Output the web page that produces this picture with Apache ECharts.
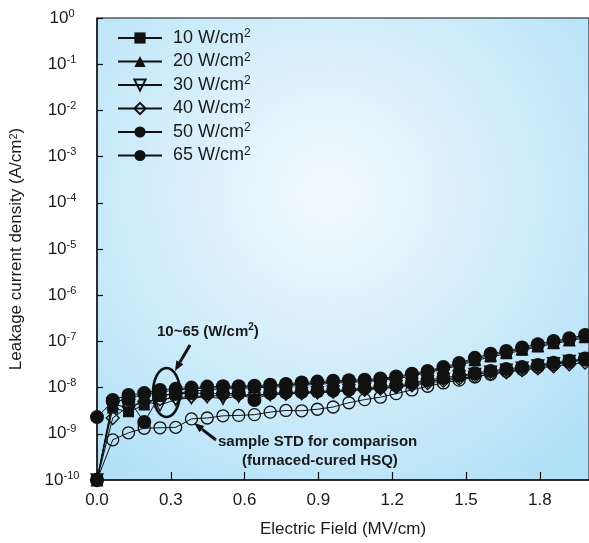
<!DOCTYPE html>
<html>
<head>
<meta charset="utf-8">
<script src="https://cdn.jsdelivr.net/npm/echarts@6/dist/echarts.min.js"></script>
<style>
  html, body { margin: 0; padding: 0; background: #fff; }
  #main { width: 589px; height: 543px; }
</style>
</head>
<body>
<div id="main"></div>
<script>
// electric field (MV/cm)
const fieldMV = [0, 0.064, 0.128, 0.192, 0.256, 0.32, 0.384, 0.448, 0.512, 0.576, 0.64, 0.704, 0.768, 0.832, 0.896, 0.96,
  1.024, 1.088, 1.152, 1.216, 1.28, 1.344, 1.408, 1.472, 1.536, 1.6, 1.664, 1.728, 1.792, 1.856, 1.92, 1.984];

// leakage current density (A/cm2)
const j10 = [1e-10, 3.6e-9, 3.0e-9, 4.2e-9, 6.5e-9, 7.5e-9, 8.3e-9, 9.0e-9, 9.3e-9, 9.6e-9, 9.9e-9, 1.02e-8, 1.06e-8, 1.12e-8, 1.18e-8, 1.24e-8,
  1.3e-8, 1.35e-8, 1.43e-8, 1.55e-8, 1.78e-8, 2.1e-8, 2.5e-8, 3.0e-8, 3.8e-8, 4.6e-8, 5.4e-8, 6.4e-8, 7.6e-8, 8.9e-8, 1.03e-7, 1.2e-7];
const j20 = [1e-10, 4.6e-9, 6.0e-9, 7.0e-9, 8.0e-9, 8.8e-9, 9.4e-9, 9.8e-9, 1.0e-8, 1.02e-8, 1.05e-8, 1.08e-8, 1.12e-8, 1.2e-8, 1.26e-8, 1.32e-8,
  1.36e-8, 1.4e-8, 1.5e-8, 1.65e-8, 1.9e-8, 2.2e-8, 2.65e-8, 3.2e-8, 4.1e-8, 5.0e-8, 5.8e-8, 6.9e-8, 8.1e-8, 9.5e-8, 1.09e-7, 1.28e-7];
const j30 = [1e-10, 4.5e-9, 3.6e-9, 5.0e-9, 4.2e-9, 5.5e-9, 6.0e-9, 6.3e-9, 5.8e-9, 6.5e-9, 6.8e-9, 7.0e-9, 7.3e-9, 7.5e-9, 7.8e-9, 8.1e-9,
  8.6e-9, 9.2e-9, 9.8e-9, 1.05e-8, 1.17e-8, 1.35e-8, 1.52e-8, 1.7e-8, 1.92e-8, 2.15e-8, 2.4e-8, 2.65e-8, 2.95e-8, 3.3e-8, 3.7e-8, 4.1e-8];
const j40 = [1e-10, 2.2e-9, 3.9e-9, 5.0e-9, 5.6e-9, 6.0e-9, 6.4e-9, 6.6e-9, 6.8e-9, 6.9e-9, 7.0e-9, 7.2e-9, 7.4e-9, 7.6e-9, 7.9e-9, 8.2e-9,
  8.6e-9, 9.0e-9, 9.5e-9, 1.02e-8, 1.12e-8, 1.25e-8, 1.4e-8, 1.56e-8, 1.75e-8, 1.95e-8, 2.15e-8, 2.38e-8, 2.62e-8, 2.9e-8, 3.2e-8, 3.5e-8];
const j50 = [1e-10, 5.4e-9, 6.9e-9, 7.6e-9, 8.9e-9, 9.5e-9, 1.0e-8, 1.05e-8, 1.07e-8, 1.07e-8, 1.1e-8, 1.15e-8, 1.2e-8, 1.29e-8, 1.35e-8, 1.41e-8,
  1.45e-8, 1.48e-8, 1.58e-8, 1.74e-8, 2.0e-8, 2.3e-8, 2.8e-8, 3.4e-8, 4.4e-8, 5.4e-8, 6.2e-8, 7.4e-8, 8.7e-8, 1.02e-7, 1.17e-7, 1.38e-7];
const j65 = [2.3e-9, 5.0e-9, 5.6e-9, 1.8e-9, 6.8e-9, 7.3e-9, 7.6e-9, 7.5e-9, 7.4e-9, 7.5e-9, 5.4e-9, 7.6e-9, 7.8e-9, 8.0e-9, 8.3e-9, 8.6e-9,
  9.1e-9, 9.8e-9, 1.05e-8, 1.12e-8, 1.25e-8, 1.45e-8, 1.62e-8, 1.82e-8, 2.05e-8, 2.3e-8, 2.52e-8, 2.78e-8, 3.1e-8, 3.45e-8, 3.8e-8, 4.25e-8];
// sample STD (furnace-cured HSQ)
const jStd = [1e-10, 7.4e-10, 1.05e-9, 1.32e-9, 1.35e-9, 1.38e-9, 2.1e-9, 2.2e-9, 2.45e-9, 2.5e-9, 2.6e-9, 2.95e-9, 3.2e-9, 3.15e-9, 3.4e-9, 3.8e-9,
  4.7e-9, 5.5e-9, 6.2e-9, 7.4e-9, 8.9e-9, 1.07e-8, 1.26e-8, 1.45e-8, 1.7e-8, 1.95e-8, 2.25e-8, 2.5e-8, 2.8e-8, 3.15e-8, 3.55e-8, 4.0e-8];

const xTicks = [0, 0.3, 0.6, 0.9, 1.2, 1.5, 1.8];

const pairs = arr => arr.map((v, i) => [fieldMV[i], v]);

function makeSeries(name, data, symbol, filled, size, rotate) {
  return {
    name: name,
    type: 'line',
    data: pairs(data),
    symbol: symbol,
    symbolSize: size,
    symbolRotate: rotate || 0,
    lineStyle: { color: '#111', width: 1 },
    itemStyle: {
      color: filled ? '#111' : 'rgba(255,255,255,0)',
      borderColor: '#111',
      borderWidth: filled ? 0 : 1.3
    },
    emphasis: { disabled: true }
  };
}

const chart = echarts.init(document.getElementById('main'), null, { renderer: 'canvas' });

const txt = '#1a1a1a';
const font = 'Liberation Sans, Arial, sans-serif';

chart.setOption({
  animation: false,
  textStyle: { fontFamily: font },
  grid: {
    left: 96, top: 18, right: -1, bottom: 63,
    show: true,
    borderColor: '#111',
    borderWidth: 1,
    backgroundColor: {
      type: 'radial', x: 0.47, y: 0.38, r: 0.78,
      colorStops: [
        { offset: 0, color: '#f3fbff' },
        { offset: 0.35, color: '#dcf1fc' },
        { offset: 1, color: '#b0e0f7' }
      ]
    }
  },
  legend: {
    orient: 'vertical',
    left: 112, top: 23,
    itemWidth: 44, itemHeight: 14, itemGap: 4.5,
    textStyle: {
      color: txt, fontSize: 18, fontFamily: font, padding: [0, 0, 0, 6],
      rich: {
        a: { fontSize: 18, color: txt, fontFamily: font, lineHeight: 20 },
        s: { fontSize: 12, color: txt, fontFamily: font, verticalAlign: 'top', lineHeight: 9 }
      }
    },
    formatter: n => '{a|' + n.slice(0, -1) + '}{s|2}',
    data: ['10 W/cm2', '20 W/cm2', '30 W/cm2', '40 W/cm2', '50 W/cm2', '65 W/cm2']
  },
  xAxis: {
    type: 'value',
    min: 0, max: 2.0, interval: 0.3,
    name: 'Electric Field (MV/cm)',
    nameLocation: 'middle', nameGap: 41,
    nameTextStyle: { color: txt, fontSize: 17, fontFamily: font },
    axisLine: { lineStyle: { color: '#111', width: 1.5 } },
    axisTick: { inside: true, length: 8, lineStyle: { color: '#111', width: 1.2 } },
    axisLabel: {
      color: txt, fontSize: 17, margin: 12, showMaxLabel: false,
      formatter: v => (xTicks.some(t => Math.abs(t - v) < 1e-6) ? v.toFixed(1) : '')
    },
    splitLine: { show: false }
  },
  yAxis: {
    type: 'log',
    logBase: 10,
    min: 1e-10, max: 1,
    interval: 1,
    name: 'Leakage current density (A/cm{s|2})',
    nameLocation: 'middle', nameGap: 72, nameRotate: 90,
    nameTextStyle: {
      color: txt, fontSize: 17, fontFamily: font,
      rich: {
        s: { fontSize: 11, color: txt, fontFamily: font, verticalAlign: 'top', lineHeight: 11 }
      }
    },
    axisLine: { lineStyle: { color: '#111', width: 1.5 } },
    axisTick: { inside: true, length: 6, lineStyle: { color: '#111', width: 1.2 } },
    axisLabel: {
      color: txt, margin: 35, align: 'center',
      formatter: v => '{b|10}{e|' + Math.round(Math.log10(v)) + '}',
      rich: {
        b: { fontSize: 17, color: txt, fontFamily: font, lineHeight: 20 },
        e: { fontSize: 11, color: txt, fontFamily: font, verticalAlign: 'top', lineHeight: 9 }
      }
    },
    splitLine: { show: false }
  },
  series: [
    makeSeries('sample STD', jStd, 'circle', false, 12),
    makeSeries('40 W/cm2', j40, 'diamond', false, 13),
    makeSeries('30 W/cm2', j30, 'triangle', false, 12, 180),
    makeSeries('65 W/cm2', j65, 'circle', true, 14),
    makeSeries('10 W/cm2', j10, 'rect', true, 11),
    makeSeries('20 W/cm2', j20, 'triangle', true, 13),
    makeSeries('50 W/cm2', j50, 'circle', true, 14)
  ],
  graphic: [
    {
      type: 'text', left: 157, top: 322,
      style: {
        text: '{a|10~65 (W/cm}{s|2}{a|)}',
        rich: {
          a: { fontSize: 15, fontWeight: 'bold', fill: txt, fontFamily: font, lineHeight: 20 },
          s: { fontSize: 10, fontWeight: 'bold', fill: txt, fontFamily: font, verticalAlign: 'top', lineHeight: 10 }
        }
      }
    },
    {
      type: 'ellipse',
      shape: { cx: 166.5, cy: 392.5, rx: 13.5, ry: 24.5 },
      style: { fill: 'none', stroke: '#111', lineWidth: 2.6 }
    },
    {
      type: 'line',
      shape: { x1: 190, y1: 345, x2: 179.9, y2: 362.3 },
      style: { stroke: '#111', lineWidth: 3 }
    },
    {
      type: 'polygon',
      shape: { points: [[175, 371], [183.4, 364.2], [176.4, 360.3]] },
      style: { fill: '#111' }
    },
    {
      type: 'line',
      shape: { x1: 216, y1: 440, x2: 201.9, y2: 429.1 },
      style: { stroke: '#111', lineWidth: 3 }
    },
    {
      type: 'polygon',
      shape: { points: [[194, 423], [204.3, 426], [199.5, 432.3]] },
      style: { fill: '#111' }
    },
    {
      type: 'text', left: 218, top: 434,
      style: { text: 'sample STD for comparison', fontSize: 15, fontWeight: 'bold', fill: txt, fontFamily: font }
    },
    {
      type: 'text', left: 242, top: 453,
      style: { text: '(furnaced-cured HSQ)', fontSize: 15, fontWeight: 'bold', fill: txt, fontFamily: font }
    }
  ]
});
</script>
</body>
</html>
